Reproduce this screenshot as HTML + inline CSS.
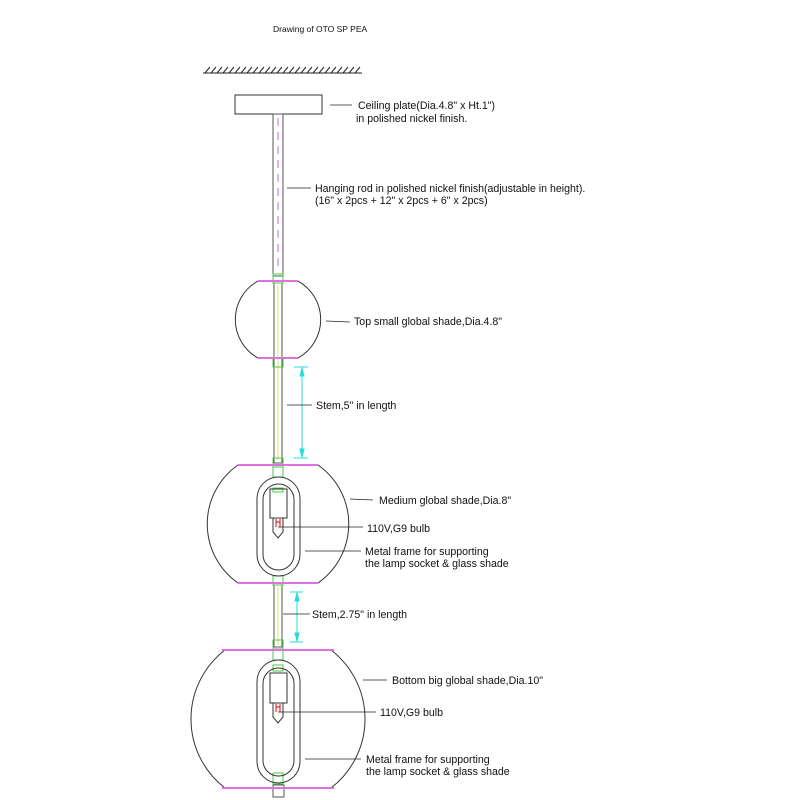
<!DOCTYPE html>
<html><head><meta charset="utf-8"><style>
html,body{margin:0;padding:0;background:#fff;width:800px;height:800px;overflow:hidden}
svg text{font-family:"Liberation Sans",sans-serif;font-size:10.6px;fill:#111}
</style></head><body>
<svg width="800" height="800" viewBox="0 0 800 800" xmlns="http://www.w3.org/2000/svg">
<text x="273" y="32" style="font-size:8.5px">Drawing of OTO SP PEA</text>
<!-- ceiling -->
<line x1="203" y1="73" x2="362" y2="73" stroke="#222" stroke-width="1"/>
<path d="M205 73 l5 -6 M211 73 l5 -6 M217 73 l5 -6 M223 73 l5 -6 M229 73 l5 -6 M235 73 l5 -6 M241 73 l5 -6 M247 73 l5 -6 M253 73 l5 -6 M259 73 l5 -6 M265 73 l5 -6 M271 73 l5 -6 M277 73 l5 -6 M283 73 l5 -6 M289 73 l5 -6 M295 73 l5 -6 M301 73 l5 -6 M307 73 l5 -6 M313 73 l5 -6 M319 73 l5 -6 M325 73 l5 -6 M331 73 l5 -6 M337 73 l5 -6 M343 73 l5 -6 M349 73 l5 -6 M355 73 l5 -6" stroke="#222" stroke-width="1"/>
<!-- plate -->
<rect x="235" y="95" width="87" height="19" fill="none" stroke="#333"/>
<!-- rod -->
<rect x="273" y="114" width="10" height="162" fill="none" stroke="#555"/>
<line x1="278" y1="118" x2="278" y2="272" stroke="#c040c0" stroke-width="0.8" stroke-dasharray="8,6"/>
<!-- stems -->
<rect x="274" y="283" width="8" height="180" fill="none" stroke="#555"/>
<line x1="278" y1="285" x2="278" y2="460" stroke="#e0e060"/>
<rect x="274" y="585" width="8" height="62" fill="none" stroke="#555"/>
<line x1="278" y1="587" x2="278" y2="645" stroke="#e0e060"/>
<!-- connectors -->
<g fill="none" stroke="#4c4" stroke-width="1">
<rect x="273" y="274" width="10" height="9"/>
<rect x="273" y="358" width="10" height="9"/>
<rect x="273" y="458" width="10" height="9"/>
<rect x="273" y="467" width="10" height="10"/>
<rect x="273" y="576" width="10" height="9"/>
<rect x="273" y="640" width="10" height="9"/>
<rect x="273" y="650" width="10" height="10"/>
<rect x="273" y="665" width="10" height="6"/>
<rect x="273" y="773" width="10" height="11"/>
<rect x="273" y="488" width="10" height="4"/>
</g>
<rect x="273" y="785" width="11" height="12" fill="none" stroke="#555"/>
<!-- top shade -->
<path d="M258 281 A44 44 0 0 0 258 358 M298 281 A44 44 0 0 1 298 358" fill="none" stroke="#333"/>
<line x1="258" y1="281" x2="298" y2="281" stroke="#e070e0" stroke-width="2"/>
<line x1="258" y1="358" x2="298" y2="358" stroke="#e070e0" stroke-width="2"/>
<!-- medium shade -->
<path d="M238 465 A72 72 0 0 0 238 583 M318 465 A72 72 0 0 1 318 583" fill="none" stroke="#333"/>
<line x1="238" y1="465" x2="318" y2="465" stroke="#e070e0" stroke-width="2"/>
<line x1="238" y1="583" x2="318" y2="583" stroke="#e070e0" stroke-width="2"/>
<rect x="257" y="477" width="43" height="99" rx="21.5" fill="none" stroke="#333"/>
<rect x="263" y="484" width="31" height="86" rx="15.5" fill="none" stroke="#333"/>
<rect x="270" y="489" width="17" height="29" fill="none" stroke="#333"/>
<path d="M273 518 v14 l5 6 l5 -6 v-14" fill="none" stroke="#333"/>
<path d="M276 519 v8 M280 519 v8 M276 522 h4" stroke="#e00" fill="none"/>
<!-- bottom shade -->
<path d="M225 650 A87 87 0 0 0 225 788 M331 650 A87 87 0 0 1 331 788" fill="none" stroke="#333"/>
<line x1="222" y1="650" x2="334" y2="650" stroke="#e070e0" stroke-width="2"/>
<line x1="222" y1="788" x2="334" y2="788" stroke="#e070e0" stroke-width="2"/>
<rect x="257" y="660" width="43" height="123" rx="21.5" fill="none" stroke="#333"/>
<rect x="263" y="668" width="31" height="108" rx="15.5" fill="none" stroke="#333"/>
<rect x="270" y="673" width="17" height="30" fill="none" stroke="#333"/>
<path d="M273 703 v14 l5 6 l5 -6 v-14" fill="none" stroke="#333"/>
<path d="M276 704 v8 M280 704 v8 M276 707 h4" stroke="#e00" fill="none"/>
<!-- dimensions -->
<g stroke="#2dd" fill="#2dd">
<line x1="302" y1="367" x2="302" y2="458"/>
<line x1="294" y1="367" x2="308" y2="367"/><line x1="294" y1="458" x2="308" y2="458"/>
<path d="M302 368 l-2 8 h4z M302 457 l-2 -8 h4z"/>
<line x1="297" y1="592" x2="297" y2="642"/>
<line x1="290" y1="592" x2="303" y2="592"/><line x1="290" y1="642" x2="303" y2="642"/>
<path d="M297 593 l-2 8 h4z M297 641 l-2 -8 h4z"/>
</g>
<!-- leaders -->
<g stroke="#222" stroke-width="0.8">
<line x1="330" y1="105" x2="352" y2="105"/>
<line x1="287" y1="188" x2="311" y2="188"/>
<line x1="326" y1="321" x2="350" y2="322"/>
<line x1="287" y1="405" x2="312" y2="405"/>
<line x1="350" y1="499" x2="373" y2="500"/>
<line x1="278" y1="527" x2="363" y2="527"/>
<line x1="305" y1="551" x2="361" y2="551"/>
<line x1="283" y1="614" x2="310" y2="614"/>
<line x1="363" y1="680" x2="387" y2="680"/>
<line x1="278" y1="712" x2="376" y2="712"/>
<line x1="305" y1="759" x2="361" y2="759"/>
</g>
<text x="358" y="109">Ceiling plate(Dia.4.8" x Ht.1")</text>
<text x="356" y="122">in polished nickel finish.</text>
<text x="315" y="192">Hanging rod in polished nickel finish(adjustable in height).</text>
<text x="315" y="204">(16" x 2pcs + 12" x 2pcs + 6" x 2pcs)</text>
<text x="354" y="325">Top small global shade,Dia.4.8"</text>
<text x="316" y="409">Stem,5" in length</text>
<text x="379" y="504">Medium global shade,Dia.8"</text>
<text x="367" y="532">110V,G9 bulb</text>
<text x="365" y="555">Metal frame for supporting</text>
<text x="365" y="567">the lamp socket &amp; glass shade</text>
<text x="312" y="618">Stem,2.75" in length</text>
<text x="392" y="684">Bottom big global shade,Dia.10"</text>
<text x="380" y="716">110V,G9 bulb</text>
<text x="366" y="763">Metal frame for supporting</text>
<text x="366" y="775">the lamp socket &amp; glass shade</text>
</svg>
</body></html>
